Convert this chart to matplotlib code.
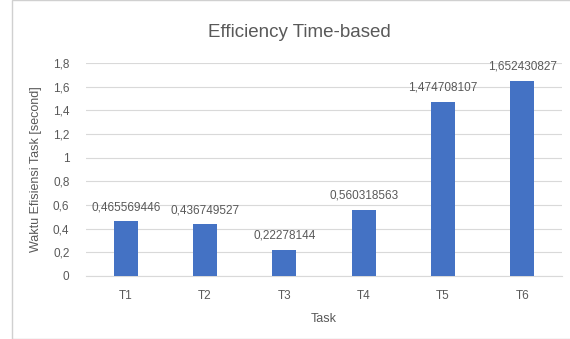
"""Bar chart of efficiency time per task."""
import matplotlib
matplotlib.use("Agg")
import matplotlib.pyplot as plt
from matplotlib.patches import Rectangle

tasks = ["T1", "T2", "T3", "T4", "T5", "T6"]
waktu = [0.465569446, 0.436749527, 0.22278144, 0.560318563, 1.474708107, 1.652430827]
y_ticks = [0, 0.2, 0.4, 0.6, 0.8, 1.0, 1.2, 1.4, 1.6, 1.8]

TEXT = "#595959"
BAR = "#4472C4"
GRID = "#D9D9D9"


def koma(v):
    """Format a number with a comma as decimal separator."""
    s = f"{v:g}" if v in y_ticks else str(v)
    return s.replace(".", ",")


plt.rcParams["font.family"] = ["Liberation Sans", "DejaVu Sans"]
fig = plt.figure(figsize=(5.7, 3.39), dpi=100)
fig.patches.append(Rectangle((12 / 570, 0.0), 1.0, 1.0, transform=fig.transFigure,
                             fill=False, edgecolor="#D0D0D0", linewidth=1.0))
ax = fig.add_axes([0.151, 0.186, 0.835, 0.628])

x = range(len(tasks))
ax.bar(x, waktu, width=0.3, color=BAR, zorder=3)
for i, v in zip(x, waktu):
    ax.text(i, v + 0.065, koma(v), ha="center", va="bottom", fontsize=8.5, color=TEXT)

ax.set_xlim(-0.5, len(tasks) - 0.5)
ax.set_ylim(0, 1.8)
ax.set_yticks(y_ticks)
ax.set_yticklabels([koma(t) for t in y_ticks])
ax.set_xticks(list(x))
ax.set_xticklabels(tasks)
ax.tick_params(axis="both", length=0, labelsize=8.5, colors=TEXT)
ax.tick_params(axis="x", pad=10)
ax.tick_params(axis="y", pad=12)
ax.grid(axis="y", color=GRID, linewidth=0.8, zorder=0)
for s in ["top", "right", "left"]:
    ax.spines[s].set_visible(False)
ax.spines["bottom"].set_color(GRID)

ax.set_xlabel("Task", fontsize=9, color=TEXT, labelpad=8)
ax.set_ylabel("Waktu Efisiensi Task [second]", fontsize=9, color=TEXT, labelpad=8)
fig.text(0.525, 0.905, "Efficiency Time-based", ha="center", va="center",
         fontsize=13.5, color=TEXT)

fig.savefig("out.png", dpi=100)
